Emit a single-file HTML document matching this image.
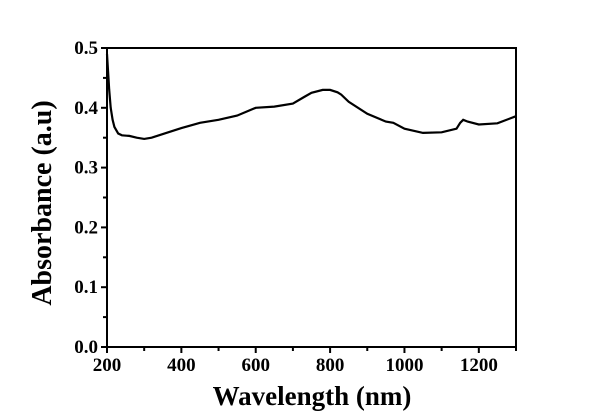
<!DOCTYPE html>
<html><head><meta charset="utf-8"><style>
body{margin:0;background:#fff}
svg{display:block;font-family:"Liberation Serif",serif;font-weight:bold}
</style></head><body>
<svg id="chart" width="600" height="416">
<rect x="107" y="48" width="409" height="299" fill="none" stroke="#000" stroke-width="2"/>
<g id="ticks"></g>
<path id="line" fill="none" stroke="#000" stroke-width="2.2"/>
<text x="312" y="405" font-size="27" text-anchor="middle">Wavelength (nm)</text>
<text transform="translate(51,203) rotate(-90)" font-size="28" text-anchor="middle">Absorbance (a.u)</text>
</svg>
<script>
const wavelengths=[200,203,206,210,215,220,230,240,260,280,300,320,350,400,450,500,550,600,650,700,730,750,780,800,820,830,850,900,950,970,1000,1050,1100,1140,1150,1158,1170,1200,1250,1300];
const absorbance=[0.49,0.46,0.43,0.40,0.38,0.368,0.357,0.354,0.353,0.350,0.348,0.350,0.356,0.366,0.375,0.380,0.387,0.400,0.402,0.407,0.418,0.425,0.430,0.430,0.426,0.422,0.410,0.390,0.377,0.375,0.365,0.358,0.359,0.365,0.375,0.380,0.377,0.372,0.374,0.386];
const xTicks=[200,400,600,800,1000,1200];
const yTicks=[0.0,0.1,0.2,0.3,0.4,0.5];
const NS="http://www.w3.org/2000/svg";
const X=v=>107+(v-200)/1100*409;
const Y=v=>347-v/0.5*299;
const g=document.getElementById('ticks');
function el(t,a){const e=document.createElementNS(NS,t);for(const k in a)e.setAttribute(k,a[k]);g.appendChild(e);return e;}
for(let v=200;v<=1300;v+=100){const major=v%200===0;
 const t=el('line',{x1:X(v),x2:X(v),y1:347,y2:347+(major?6:4),stroke:'#000','stroke-width':2});
 
 }
xTicks.forEach(v=>{const t=el('text',{x:X(v),y:371,'font-size':19,'text-anchor':'middle'});t.textContent=v;
 
 });
for(let i=0;i<=10;i++){const v=i*0.05;const major=i%2===0;
 const t=el('line',{x1:107-(major?6:4),x2:107,y1:Y(v),y2:Y(v),stroke:'#000','stroke-width':2});
 
 }
yTicks.forEach(v=>{const t=el('text',{x:98,y:Y(v)+6,'font-size':19,'text-anchor':'end'});t.textContent=v.toFixed(1);
 
 });
document.getElementById('line').setAttribute('d',wavelengths.map((w,i)=>(i?'L':'M')+X(w).toFixed(1)+','+Y(absorbance[i]).toFixed(1)).join(''));
</script>
</body></html>
